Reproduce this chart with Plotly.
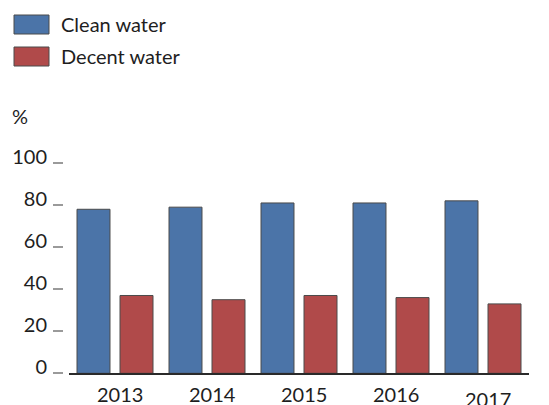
import plotly.graph_objects as go

# ---- data ----
years = ["2013", "2014", "2015", "2016", "2017"]
clean_water = [78, 79, 81, 81, 82]
decent_water = [37, 35, 37, 36, 33]
series_names = ["Clean water", "Decent water"]
y_ticks = [0, 20, 40, 60, 80, 100]
unit_label = "%"

# ---- style ----
PAGE_OFFSET = 8          # default body margin of the html page
W, H = 549 - PAGE_OFFSET, 405 - PAGE_OFFSET
BLUE = "#4b74a8"
RED = "#b04a4a"
OUTLINE = "#4a4a4a"
TEXT = "#1e1e1e"
TICK = "#9a9a9a"
FONT = "Lato"

def px_x(x):
    return (x - PAGE_OFFSET) / W

def px_y(y):
    return 1 - (y - PAGE_OFFSET) / H

fig = go.Figure()
fig.add_trace(go.Bar(x=years, y=clean_water, name=series_names[0],
                     marker=dict(color=BLUE, line=dict(color=OUTLINE, width=1)),
                     showlegend=False))
fig.add_trace(go.Bar(x=years, y=decent_water, name=series_names[1],
                     marker=dict(color=RED, line=dict(color=OUTLINE, width=1)),
                     showlegend=False))

annotations = []
label_dy = [0, 0, 0, 0, -5]
for i, yr in enumerate(years):
    annotations.append(dict(x=i, y=0, xref="x", yref="y", text=yr, showarrow=False,
                            yanchor="top", xanchor="center", xshift=5, yshift=-7 + label_dy[i],
                            font=dict(family=FONT, size=20, color=TEXT)))

# custom legend
legend_rows = [(series_names[0], BLUE, 15, 34), (series_names[1], RED, 47, 66)]
shapes = []
for name, col, y0, y1 in legend_rows:
    shapes.append(dict(type="rect", xref="paper", yref="paper",
                       x0=px_x(14), x1=px_x(49), y0=px_y(y1), y1=px_y(y0),
                       fillcolor=col, line=dict(color=OUTLINE, width=1)))
    annotations.append(dict(x=px_x(59), y=px_y((y0 + y1) / 2), xref="paper", yref="paper",
                            text=name, showarrow=False, xanchor="left", yanchor="middle",
                            font=dict(family=FONT, size=20, color=TEXT)))

# mirrored tick dashes on the right-hand side, placed via the y axis
for t in y_ticks:
    shapes.append(dict(type="line", xref="paper", yref="y", x0=px_x(541), x1=1.0,
                       y0=t, y1=t, line=dict(color=TICK, width=1.5)))

annotations.append(dict(x=px_x(10), y=px_y(116), xref="paper", yref="paper", text=unit_label,
                        showarrow=False, xanchor="left", yanchor="middle",
                        font=dict(family=FONT, size=20, color=TEXT)))

y_domain = [px_y(373.3), px_y(163)]

fig.update_layout(
    width=W, height=H,
    margin=dict(l=0, r=0, t=0, b=0),
    paper_bgcolor="white", plot_bgcolor="white",
    barmode="group", bargap=0.065, bargroupgap=0.233,
    xaxis=dict(type="category", categoryorder="array", categoryarray=years,
               domain=[px_x(69), px_x(529)], range=[-0.5, len(years) - 0.5],
               showgrid=False, showline=True,
               linecolor="#2a2a2a", linewidth=1.5, ticks="", showticklabels=False,
               zeroline=False),
    yaxis=dict(domain=y_domain, range=[0, 100], tickvals=y_ticks, showgrid=False,
               zeroline=False, showline=False, ticks="outside", ticklen=10,
               tickwidth=1.5, tickcolor=TICK, anchor="free", position=px_x(63),
               tickfont=dict(family=FONT, size=20, color=TEXT), ticklabelshift=-6,
               ticklabelstandoff=2, automargin=False),
    annotations=annotations,
    shapes=shapes,
)

fig.write_html("out.html",
               post_script="document.documentElement.style.overflow='hidden';"
                           "document.body.style.overflow='hidden';")
